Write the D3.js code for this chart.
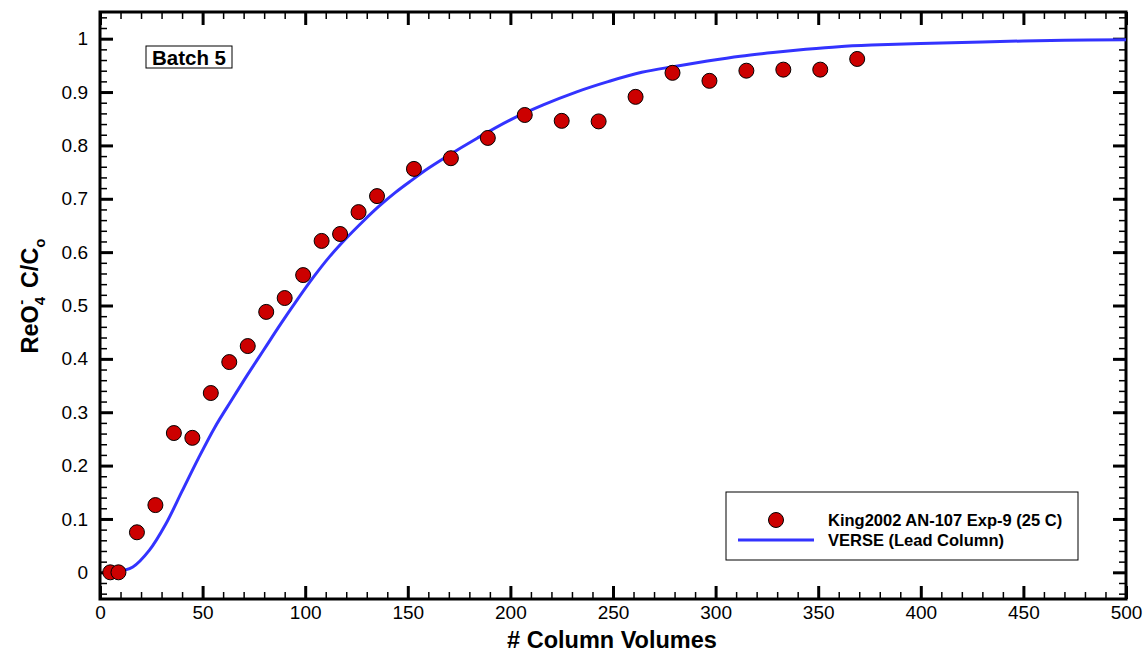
<!DOCTYPE html>
<html lang="en">
<head>
<meta charset="UTF-8">
<title>Batch 5 breakthrough</title>
<script src="https://cdn.jsdelivr.net/npm/d3@7"></script>
<style>
  body { margin: 0; background: #fff; }
  text { font-family: "Liberation Sans", Arial, sans-serif; }
</style>
</head>
<body>
<svg id="chart" width="1146" height="652"></svg>
<script>
// measured data (King2002 AN-107 Exp-9, 25 C)
var expVolumes = [5, 9, 18, 27, 36, 45, 54, 63, 72, 81, 90, 99, 108, 117, 126, 135,
                  153, 171, 189, 207, 225, 243, 261, 279, 297, 315, 333, 351, 369];
var expConc = [0, 0, 0.075, 0.126, 0.261, 0.252, 0.336, 0.394, 0.424, 0.488, 0.514, 0.557,
               0.621, 0.634, 0.675, 0.705, 0.756, 0.776, 0.814, 0.857, 0.846, 0.845,
               0.891, 0.936, 0.921, 0.940, 0.942, 0.942, 0.962];

// VERSE model, lead column
var modelVolumes = [7, 16, 24, 32, 40, 48, 56, 64, 72, 80, 88, 96, 104, 112, 120, 128, 136,
                    144, 152, 160, 168, 184, 200, 216, 232, 248, 264, 280, 296, 312, 328,
                    344, 360, 376, 400, 430, 470, 500];
var modelConc = [0, 0.01, 0.041, 0.09, 0.152, 0.214, 0.272, 0.322, 0.371, 0.418, 0.465, 0.51,
                 0.553, 0.592, 0.626, 0.657, 0.686, 0.712, 0.735, 0.757, 0.777, 0.814, 0.848,
                 0.876, 0.9, 0.92, 0.937, 0.948, 0.958, 0.967, 0.974, 0.98, 0.985, 0.988,
                 0.991, 0.994, 0.997, 0.998];

var xMajor = [0, 50, 100, 150, 200, 250, 300, 350, 400, 450, 500];
var yMajor = [0, 0.1, 0.2, 0.3, 0.4, 0.5, 0.6, 0.7, 0.8, 0.9, 1];

var legendLabels = ["King2002 AN-107 Exp-9 (25 C)", "VERSE (Lead Column)"];

var svg = d3.select("#chart");
var pLeft = 100, pRight = 1126, pTop = 12, pBottom = 599;

var x = d3.scaleLinear().domain([0, 500]).range([pLeft, pRight]);
var y = d3.scaleLinear().domain([-0.05, 1.05]).range([pBottom, pTop]);

var xMinor = d3.range(0, 501, 10).filter(function (v) { return v % 50 !== 0; });
var yMinor = d3.range(-4, 105, 2).map(function (v) { return v / 100; })
    .filter(function (v) { return Math.round(v * 100) % 10 !== 0; });

function styleAxis(g, w) {
  g.select(".domain").remove();
  g.selectAll(".tick line").attr("stroke", "#000").attr("stroke-width", w);
  g.selectAll("text").attr("font-size", 19).attr("fill", "#000")
    .attr("font-family", "'Liberation Sans', Arial, sans-serif");
}

// minor ticks
svg.append("g").attr("transform", "translate(0," + pBottom + ")")
  .call(d3.axisBottom(x).tickValues(xMinor).tickSize(-7).tickFormat(""))
  .call(styleAxis, 1.5);
svg.append("g").attr("transform", "translate(0," + pTop + ")")
  .call(d3.axisTop(x).tickValues(xMinor).tickSize(-7).tickFormat(""))
  .call(styleAxis, 1.5);
svg.append("g").attr("transform", "translate(" + pLeft + ",0)")
  .call(d3.axisLeft(y).tickValues(yMinor).tickSize(-7).tickFormat(""))
  .call(styleAxis, 1.5);
svg.append("g").attr("transform", "translate(" + pRight + ",0)")
  .call(d3.axisRight(y).tickValues(yMinor).tickSize(-7).tickFormat(""))
  .call(styleAxis, 1.5);

// major ticks
svg.append("g").attr("transform", "translate(0," + pBottom + ")")
  .call(d3.axisBottom(x).tickValues(xMajor).tickSize(-13).tickPadding(7).tickFormat(d3.format("d")))
  .call(styleAxis, 3);
svg.append("g").attr("transform", "translate(0," + pTop + ")")
  .call(d3.axisTop(x).tickValues(xMajor).tickSize(-13).tickFormat(""))
  .call(styleAxis, 3);
svg.append("g").attr("transform", "translate(" + pLeft + ",0)")
  .call(d3.axisLeft(y).tickValues(yMajor).tickSize(-13).tickPadding(12).tickFormat(function (d) { return d3.format("~g")(d); }))
  .call(styleAxis, 3);
svg.append("g").attr("transform", "translate(" + pRight + ",0)")
  .call(d3.axisRight(y).tickValues(yMajor).tickSize(-13).tickFormat(""))
  .call(styleAxis, 3);

// frame
svg.append("rect")
  .attr("x", pLeft).attr("y", pTop)
  .attr("width", pRight - pLeft).attr("height", pBottom - pTop)
  .attr("fill", "none").attr("stroke", "#000").attr("stroke-width", 3);

// model line
var model = modelVolumes.map(function (v, i) { return [v, modelConc[i]]; });
svg.append("path")
  .datum(model)
  .attr("fill", "none")
  .attr("stroke", "#3333ff")
  .attr("stroke-width", 3)
  .attr("d", d3.line().x(function (d) { return x(d[0]); }).y(function (d) { return y(d[1]); })
    .curve(d3.curveCatmullRom));

// measured points
var pts = expVolumes.map(function (v, i) { return [v, expConc[i]]; });
svg.append("g").selectAll("circle")
  .data(pts)
  .enter().append("circle")
  .attr("cx", function (d) { return x(d[0]); })
  .attr("cy", function (d) { return y(d[1]); })
  .attr("r", 7.5)
  .attr("fill", "#cc0000")
  .attr("stroke", "#000")
  .attr("stroke-width", 1);

// Batch label
svg.append("rect").attr("x", 146).attr("y", 46).attr("width", 86).attr("height", 22)
  .attr("fill", "#fff").attr("stroke", "#000").attr("stroke-width", 1);
svg.append("text").attr("x", 189).attr("y", 64.5).attr("text-anchor", "middle")
  .attr("font-size", 20.5).attr("font-weight", "bold").text("Batch 5");

// legend
var lg = svg.append("g");
lg.append("rect").attr("x", 726).attr("y", 492).attr("width", 352).attr("height", 68)
  .attr("fill", "#fff").attr("stroke", "#000").attr("stroke-width", 1);
lg.append("circle").attr("cx", 776).attr("cy", 520).attr("r", 7.5)
  .attr("fill", "#cc0000").attr("stroke", "#000").attr("stroke-width", 1);
lg.append("line").attr("x1", 738).attr("x2", 814).attr("y1", 540).attr("y2", 540)
  .attr("stroke", "#3333ff").attr("stroke-width", 3);
lg.selectAll("text.lab")
  .data(legendLabels)
  .enter().append("text")
  .attr("class", "lab")
  .attr("x", 828)
  .attr("y", function (d, i) { return 526 + i * 20; })
  .attr("font-size", 16.5).attr("font-weight", "bold")
  .text(function (d) { return d; });

// axis titles
svg.append("text").attr("x", (pLeft + pRight) / 2 - 1).attr("y", 648).attr("text-anchor", "middle")
  .attr("font-size", 23.5).attr("font-weight", "bold").text("# Column Volumes");

var yt = svg.append("text")
  .attr("transform", "translate(38,296) rotate(-90)")
  .attr("text-anchor", "middle")
  .attr("font-size", 23.5).attr("font-weight", "bold");
yt.append("tspan").text("ReO");
yt.append("tspan").attr("font-size", 15).attr("dy", 7).text("4");
yt.append("tspan").attr("font-size", 15).attr("dx", -8).attr("dy", -19).text("-");
yt.append("tspan").attr("dy", 12).text("\u2002C/C");
yt.append("tspan").attr("font-size", 15).attr("dy", 7).text("o");
</script>
</body>
</html>
